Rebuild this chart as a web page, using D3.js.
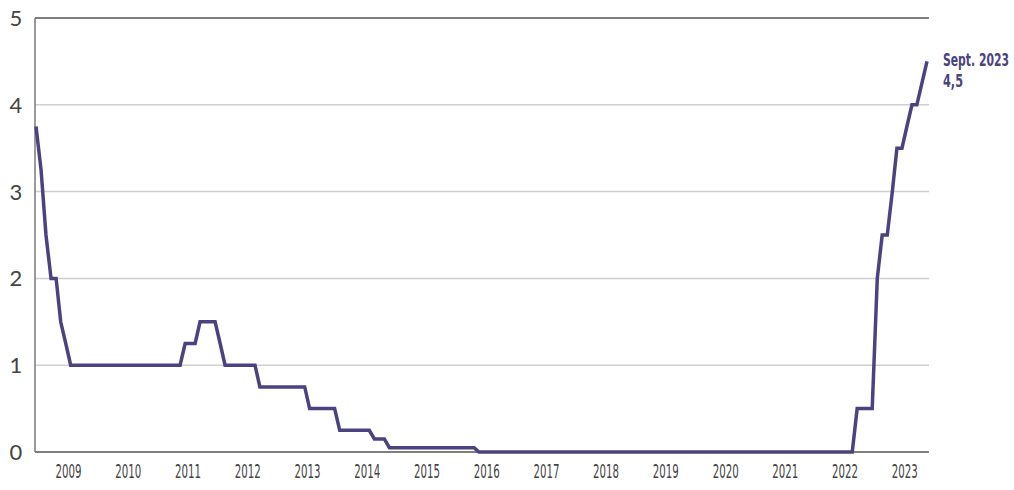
<!DOCTYPE html>
<html>
<head>
<meta charset="utf-8">
<script src="https://cdn.jsdelivr.net/npm/d3@7"></script>
<style>
  body { margin: 0; background: #fff; }
  svg { display: block; }
</style>
</head>
<body>
<div id="container"></div>
<script>
// ECB main rate, vertices of the drawn line (month, %)
var months = ["2008-10","2008-11","2008-12","2009-01","2009-02","2009-03","2009-04","2009-05",
    "2011-03","2011-04","2011-06","2011-07","2011-10","2011-11","2011-12",
    "2012-06","2012-07","2013-04","2013-05","2013-10","2013-11",
    "2014-05","2014-06","2014-08","2014-09","2016-02","2016-03",
    "2022-06","2022-07","2022-10","2022-11","2022-12","2023-01","2023-02","2023-03",
    "2023-04","2023-05","2023-06","2023-07","2023-08","2023-09"];
var rates = [3.75, 3.25, 2.5, 2.0, 2.0, 1.5, 1.25, 1.0,
    1.0, 1.25, 1.25, 1.5, 1.5, 1.25, 1.0,
    1.0, 0.75, 0.75, 0.5, 0.5, 0.25,
    0.25, 0.15, 0.15, 0.05, 0.05, 0,
    0, 0.5, 0.5, 2.0, 2.5, 2.5, 3.0, 3.5,
    3.5, 3.75, 4.0, 4.0, 4.25, 4.5];
var years = [2009,2010,2011,2012,2013,2014,2015,2016,2017,2018,2019,2020,2021,2022,2023];
var yTicks = [0, 1, 2, 3, 4, 5];
var lastLabel = ["Sept. 2023", "4,5"];

var width = 1014, height = 490;
var parse = d3.timeParse("%Y-%m");
var data = months.map(function(m, i) { return {date: parse(m), value: rates[i]}; });

var svg = d3.select("#container").append("svg")
    .attr("width", width)
    .attr("height", height);

var x = d3.scaleTime()
    .domain([parse("2008-10"), parse("2023-09")])
    .range([36, 927]);
var y = d3.scaleLinear()
    .domain([0, 5])
    .range([452, 18]);

var left = 35, right = 929;

// gridlines
svg.selectAll("line.grid")
    .data(yTicks.filter(function(d){ return d > 0 && d < 5; }))
    .enter().append("line")
    .attr("class", "grid")
    .attr("x1", left).attr("x2", right)
    .attr("y1", function(d){ return y(d); })
    .attr("y2", function(d){ return y(d); })
    .style("stroke", "#cfcfcf")
    .style("stroke-width", 1.5);

// top and bottom lines
svg.selectAll("line.edge")
    .data([0, 5])
    .enter().append("line")
    .attr("class", "edge")
    .attr("x1", left).attr("x2", right)
    .attr("y1", function(d){ return y(d); })
    .attr("y2", function(d){ return y(d); })
    .style("stroke", "#555")
    .style("stroke-width", 1.5);

// left axis line
svg.append("line")
    .attr("x1", left).attr("x2", left)
    .attr("y1", y(5)).attr("y2", y(0))
    .style("stroke", "#7a7a7a")
    .style("stroke-width", 1.5);

// y labels
svg.selectAll("text.ylab")
    .data(yTicks)
    .enter().append("text")
    .attr("class", "ylab")
    .attr("x", 16)
    .attr("y", function(d){ return y(d) + 8; })
    .attr("text-anchor", "middle")
    .attr("font-family", "Lato, 'Open Sans', sans-serif")
    .attr("font-size", "22px")
    .attr("fill", "#444")
    .text(function(d){ return d; });

// x labels
svg.selectAll("text.xlab")
    .data(years)
    .enter().append("text")
    .attr("class", "xlab")
    .attr("x", function(d){ return x(new Date(d, 3, 18)) - 13; })
    .attr("y", 478)
    .attr("textLength", 26)
    .attr("lengthAdjust", "spacingAndGlyphs")
    .attr("font-family", "'Liberation Sans Narrow', 'DejaVu Sans Condensed', sans-serif")
    .attr("font-size", "20px")
    .attr("fill", "#444")
    .text(function(d){ return d; });

// the line
var line = d3.line()
    .x(function(d){ return x(d.date); })
    .y(function(d){ return y(d.value); });

svg.append("path")
    .datum(data)
    .attr("d", line)
    .style("fill", "none")
    .style("stroke", "#4a4380")
    .style("stroke-width", 3.5)
    .style("stroke-linejoin", "miter");

// end label, squeezed to the width of the condensed face in the original
var endWidths = [66, 20];
svg.selectAll("text.end")
    .data(lastLabel)
    .enter().append("text")
    .attr("class", "end")
    .attr("x", 0)
    .attr("y", 0)
    .attr("font-family", "'DejaVu Sans Condensed', 'Liberation Sans', sans-serif")
    .attr("font-weight", "bold")
    .attr("font-size", "18px")
    .attr("fill", "#4a4380")
    .text(function(d){ return d; })
    .attr("transform", function(d, i){
        var len = this.getComputedTextLength();
        return "translate(943," + (66 + i * 21) + ") scale(" + (endWidths[i] / len) + ",1)";
    });
</script>
</body>
</html>
